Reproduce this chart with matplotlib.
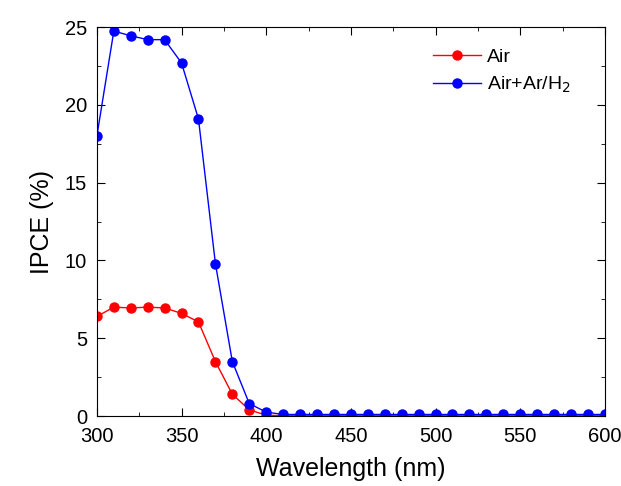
import matplotlib
matplotlib.use('Agg')
import matplotlib.pyplot as plt
from matplotlib.ticker import MultipleLocator

plt.rcParams['font.family'] = ['Liberation Sans', 'DejaVu Sans']

wavelength = list(range(300, 601, 10))
air = [6.4, 7.0, 6.95, 7.0, 6.95, 6.6, 6.05, 3.5, 1.4, 0.4, 0.05] + [0.02] * 20
air_h2 = [18.0, 24.75, 24.45, 24.2, 24.2, 22.7, 19.1, 9.8, 3.5, 0.8, 0.25] + [0.1] * 20

fig = plt.figure(figsize=(6.21, 4.86), dpi=100)
ax = fig.add_axes([0.156, 0.144, 0.818, 0.8])

ax.plot(wavelength, air, '-o', color='#ff0000', lw=1, ms=6.5, label='Air')
ax.plot(wavelength, air_h2, '-o', color='#0000ff', lw=1, ms=6.5, label='Air+Ar/H$_2$')

ax.set_xlim(300, 600)
ax.set_ylim(0, 25)
ax.xaxis.set_major_locator(MultipleLocator(50))
ax.xaxis.set_minor_locator(MultipleLocator(25))
ax.yaxis.set_major_locator(MultipleLocator(5))
ax.yaxis.set_minor_locator(MultipleLocator(2.5))
ax.tick_params(which='both', direction='in', top=True, right=True, labelsize=14.5)
ax.tick_params(which='major', length=6)
ax.tick_params(which='minor', length=3)
ax.tick_params(axis='x', pad=8)
ax.tick_params(axis='y', pad=7)
ax.set_xlabel('Wavelength (nm)', fontsize=18, labelpad=8)
ax.set_ylabel('IPCE (%)', fontsize=18, labelpad=8)
ax.legend(loc='upper left', bbox_to_anchor=(0.661, 0.945), frameon=False,
          fontsize=14, handlelength=2.5, handletextpad=0.3, borderpad=0,
          borderaxespad=0, labelspacing=0.45)

fig.savefig('out.png', dpi=100)
